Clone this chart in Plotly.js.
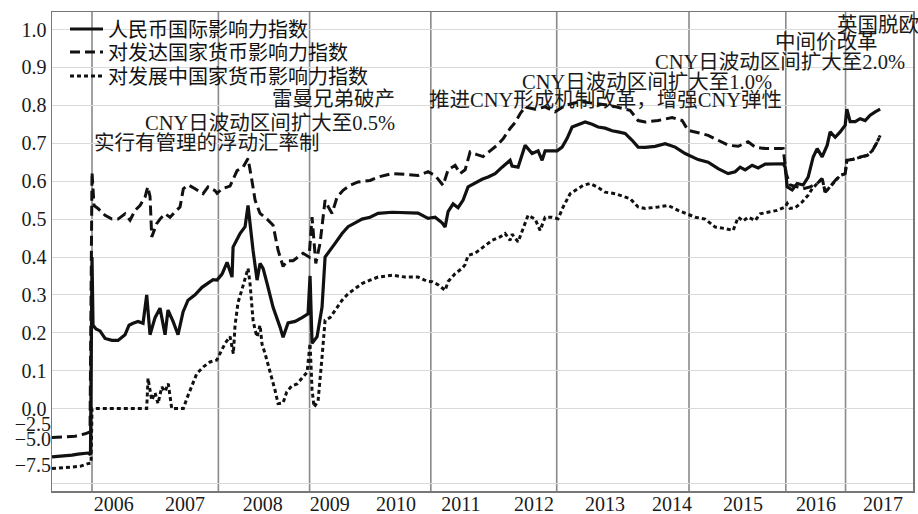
<!DOCTYPE html>
<html><head><meta charset="utf-8">
<script src="https://cdn.plot.ly/plotly-3.0.1.min.js"></script>
<style>html,body{margin:0;padding:0;background:#fff}</style>
</head><body>
<div id="chart" style="width:918px;height:514px"></div>
<script>
// ---------------- data (decimal years, index values) ----------------
const seriesNames = ['人民币国际影响力指数', '对发达国家货币影响力指数', '对发展中国家货币影响力指数'];

const rmbYears = [2004.973,2005.118,2005.263,2005.350,2005.437,2005.495,2005.531,2005.553,2005.568,2005.611,2005.669,2005.742,2005.843,2005.930,2006.032,2006.090,2006.148,2006.220,2006.293,2006.346,2006.394,2006.467,2006.539,2006.612,2006.655,2006.728,2006.800,2006.873,2006.945,2007.047,2007.148,2007.235,2007.308,2007.366,2007.438,2007.511,2007.583,2007.598,2007.699,2007.772,2007.815,2007.888,2007.946,2007.989,2008.033,2008.091,2008.178,2008.279,2008.323,2008.395,2008.497,2008.598,2008.685,2008.714,2008.743,2008.816,2008.888,2008.932,2008.975,2009.077,2009.178,2009.265,2009.367,2009.468,2009.584,2009.700,2009.903,2010.092,2010.280,2010.425,2010.527,2010.628,2010.672,2010.715,2010.788,2010.860,2010.933,2011.005,2011.107,2011.208,2011.295,2011.397,2011.498,2011.614,2011.643,2011.730,2011.832,2011.933,2012.020,2012.078,2012.122,2012.223,2012.296,2012.368,2012.441,2012.513,2012.600,2012.702,2012.803,2012.890,2012.992,2013.093,2013.180,2013.282,2013.383,2013.470,2013.572,2013.717,2013.862,2014.007,2014.152,2014.253,2014.340,2014.485,2014.630,2014.775,2014.877,2014.949,2015.022,2015.123,2015.210,2015.312,2015.457,2015.573,2015.602,2015.631,2015.703,2015.776,2015.863,2015.935,2016.008,2016.066,2016.138,2016.211,2016.254,2016.327,2016.399,2016.472,2016.496,2016.544,2016.617,2016.689,2016.762,2016.834,2016.907,2016.979];
const rmbValues = [-6.72,-6.65,-6.55,-6.45,-6.40,-6.35,-6.50,0.40,0.22,0.21,0.205,0.185,0.18,0.18,0.195,0.22,0.225,0.23,0.225,0.30,0.195,0.24,0.265,0.195,0.26,0.23,0.195,0.255,0.286,0.30,0.32,0.33,0.34,0.339,0.355,0.386,0.347,0.426,0.462,0.48,0.536,0.417,0.339,0.383,0.37,0.33,0.267,0.215,0.188,0.226,0.23,0.24,0.25,0.35,0.172,0.19,0.268,0.40,0.41,0.436,0.462,0.48,0.49,0.50,0.505,0.515,0.518,0.516,0.516,0.502,0.505,0.49,0.479,0.52,0.54,0.53,0.55,0.585,0.595,0.605,0.611,0.62,0.637,0.655,0.64,0.637,0.695,0.673,0.68,0.655,0.68,0.68,0.68,0.69,0.713,0.743,0.75,0.756,0.75,0.743,0.74,0.733,0.73,0.726,0.708,0.69,0.689,0.692,0.699,0.69,0.673,0.665,0.657,0.65,0.633,0.62,0.625,0.637,0.63,0.642,0.635,0.645,0.645,0.646,0.637,0.585,0.577,0.594,0.59,0.611,0.664,0.686,0.664,0.695,0.73,0.716,0.73,0.748,0.79,0.757,0.757,0.765,0.76,0.774,0.783,0.79];

const devdYears = [2004.973,2005.162,2005.307,2005.452,2005.524,2005.553,2005.582,2005.640,2005.742,2005.843,2005.930,2006.032,2006.104,2006.177,2006.249,2006.322,2006.361,2006.394,2006.419,2006.491,2006.539,2006.612,2006.684,2006.757,2006.829,2006.877,2006.949,2007.047,2007.163,2007.235,2007.337,2007.366,2007.438,2007.554,2007.656,2007.743,2007.815,2007.873,2007.917,2007.989,2008.091,2008.178,2008.250,2008.323,2008.381,2008.468,2008.540,2008.613,2008.700,2008.743,2008.797,2008.859,2008.932,2008.975,2009.033,2009.106,2009.193,2009.294,2009.410,2009.584,2009.700,2009.903,2010.092,2010.280,2010.425,2010.527,2010.643,2010.715,2010.817,2010.889,2010.962,2011.034,2011.136,2011.223,2011.324,2011.426,2011.513,2011.614,2011.687,2011.759,2011.832,2011.977,2012.122,2012.267,2012.412,2012.629,2012.847,2013.064,2013.282,2013.354,2013.470,2013.572,2013.760,2013.963,2014.108,2014.195,2014.340,2014.485,2014.630,2014.775,2014.920,2015.065,2015.167,2015.312,2015.457,2015.573,2015.616,2015.674,2015.776,2015.863,2015.964,2016.066,2016.138,2016.182,2016.254,2016.327,2016.399,2016.472,2016.496,2016.588,2016.689,2016.791,2016.863,2016.936,2016.979];
const devdValues = [-4.83,-4.75,-4.60,-4.20,-3.90,0.624,0.536,0.528,0.51,0.50,0.50,0.514,0.497,0.523,0.536,0.558,0.585,0.56,0.453,0.488,0.50,0.514,0.505,0.519,0.532,0.58,0.59,0.58,0.567,0.585,0.575,0.568,0.58,0.587,0.628,0.637,0.66,0.60,0.55,0.515,0.50,0.484,0.418,0.375,0.39,0.39,0.40,0.41,0.40,0.505,0.383,0.436,0.55,0.533,0.515,0.558,0.576,0.589,0.598,0.602,0.611,0.62,0.618,0.615,0.625,0.615,0.589,0.63,0.642,0.62,0.63,0.677,0.67,0.665,0.68,0.695,0.712,0.739,0.755,0.778,0.796,0.79,0.796,0.783,0.80,0.81,0.805,0.80,0.79,0.787,0.76,0.756,0.76,0.768,0.76,0.734,0.728,0.721,0.708,0.695,0.692,0.704,0.69,0.686,0.686,0.686,0.62,0.59,0.585,0.58,0.585,0.594,0.607,0.571,0.585,0.602,0.615,0.62,0.655,0.658,0.664,0.668,0.68,0.703,0.721];

const devgYears = [2004.973,2005.118,2005.263,2005.379,2005.495,2005.539,2005.553,2005.814,2006.104,2006.346,2006.365,2006.419,2006.467,2006.510,2006.564,2006.612,2006.659,2006.709,2006.781,2006.877,2006.926,2006.999,2007.071,2007.167,2007.264,2007.361,2007.409,2007.482,2007.554,2007.602,2007.627,2007.670,2007.728,2007.801,2007.815,2007.844,2007.888,2007.917,2007.946,2007.989,2008.018,2008.062,2008.134,2008.207,2008.250,2008.323,2008.376,2008.449,2008.526,2008.598,2008.671,2008.714,2008.743,2008.772,2008.830,2008.888,2008.932,2009.004,2009.077,2009.178,2009.265,2009.367,2009.468,2009.584,2009.700,2009.903,2010.092,2010.280,2010.411,2010.483,2010.570,2010.672,2010.715,2010.817,2010.918,2010.962,2011.005,2011.107,2011.223,2011.353,2011.469,2011.542,2011.614,2011.643,2011.730,2011.803,2011.875,2011.977,2012.049,2012.122,2012.223,2012.310,2012.383,2012.484,2012.586,2012.673,2012.774,2012.876,2012.992,2013.137,2013.253,2013.354,2013.470,2013.572,2013.760,2013.905,2014.050,2014.181,2014.297,2014.442,2014.587,2014.732,2014.848,2014.920,2014.993,2015.065,2015.167,2015.239,2015.355,2015.486,2015.602,2015.631,2015.674,2015.747,2015.848,2015.935,2015.993,2016.066,2016.138,2016.182,2016.254,2016.327,2016.399,2016.472,2016.496,2016.588,2016.689,2016.791,2016.863,2016.936,2016.979];
const devgValues = [-7.81,-7.75,-7.70,-7.60,-7.34,-7.30,0.0,0.0,0.0,0.0,0.08,0.022,0.042,0.013,0.057,0.045,0.066,0.0,0.0,0.0,0.026,0.06,0.092,0.11,0.123,0.128,0.145,0.172,0.19,0.145,0.22,0.28,0.315,0.357,0.37,0.33,0.233,0.207,0.189,0.22,0.17,0.145,0.10,0.048,0.013,0.015,0.044,0.06,0.065,0.079,0.096,0.172,0.05,0.004,0.02,0.136,0.233,0.24,0.26,0.286,0.303,0.316,0.33,0.339,0.347,0.352,0.347,0.347,0.336,0.335,0.327,0.312,0.335,0.356,0.37,0.38,0.404,0.41,0.426,0.444,0.453,0.462,0.444,0.46,0.44,0.478,0.51,0.50,0.47,0.505,0.505,0.501,0.532,0.567,0.58,0.589,0.594,0.585,0.571,0.567,0.56,0.554,0.532,0.528,0.532,0.536,0.523,0.514,0.505,0.50,0.479,0.475,0.47,0.505,0.495,0.505,0.496,0.514,0.519,0.523,0.532,0.541,0.528,0.53,0.545,0.563,0.58,0.594,0.607,0.571,0.585,0.602,0.615,0.62,0.655,0.658,0.664,0.668,0.68,0.703,0.721];

const eventYears = [2005.553, 2007.385, 2008.707, 2010.465, 2012.290, 2014.208, 2015.611, 2016.477];
const eventLabels = ['实行有管理的浮动汇率制', 'CNY日波动区间扩大至0.5%', '雷曼兄弟破产', '推进CNY形成机制改革，增强CNY弹性', 'CNY日波动区间扩大至1.0%', 'CNY日波动区间扩大至2.0%', '中间价改革', '英国脱欧'];

const yearLabels = ['2006','2007','2008','2009','2010','2011','2012','2013','2014','2015','2016','2017'];
const yearTickPos = [2005.87, 2006.90, 2008.03, 2009.00, 2009.96, 2010.90, 2011.96, 2012.99, 2013.96, 2014.99, 2016.05, 2017.02];

const posTickValues = [0,0.1,0.2,0.3,0.4,0.5,0.6,0.7,0.8,0.9,1.0];
const negTickValues = [-2.5,-5.0,-7.5];
const bottomGridValue = -9.2;

// ---------------- broken (compressed) scale below zero ----------------
const BREAK_VALS = [0, -2.5, -5.0, -7.5];
const BREAK_POS  = [0, -0.0396, -0.0792, -0.1496];
function axisY(v){
  if (v >= 0) return v;
  for (let i = 1; i < BREAK_VALS.length; i++) {
    if (v >= BREAK_VALS[i]) {
      const f = (v - BREAK_VALS[i-1]) / (BREAK_VALS[i] - BREAK_VALS[i-1]);
      return BREAK_POS[i-1] + f * (BREAK_POS[i] - BREAK_POS[i-1]);
    }
  }
  const n = BREAK_VALS.length;
  const slope = (BREAK_POS[n-1] - BREAK_POS[n-2]) / (BREAK_VALS[n-1] - BREAK_VALS[n-2]);
  return BREAK_POS[n-1] + (v - BREAK_VALS[n-1]) * slope;
}
const fmt = v => v.toFixed(1).replace('-', '−');

const FONT = "'Liberation Serif', 'Noto Sans CJK SC', serif";
const INK = '#111';

const traces = [
  {x: rmbYears, y: rmbValues.map(axisY), name: seriesNames[0], mode: 'lines', legend: 'legend',
   line: {color: INK, width: 3.2, dash: 'solid'}},
  {x: devdYears, y: devdValues.map(axisY), name: seriesNames[1], mode: 'lines', legend: 'legend2',
   line: {color: INK, width: 3, dash: '10px,5px'}},
  {x: devgYears, y: devgValues.map(axisY), name: seriesNames[2], mode: 'lines', legend: 'legend3',
   line: {color: INK, width: 3, dash: '4px,3px'}},
  // carrier for the compressed negative-scale labels (no marks)
  {x: [], y: [], yaxis: 'y2', mode: 'lines', showlegend: false, hoverinfo: 'skip'}
];

const yRange = [-0.2174, 1.0464];
const legendBase = {x: 0.0151, xanchor: 'left', yanchor: 'middle', bgcolor: 'rgba(0,0,0,0)',
  borderwidth: 0, itemwidth: 33, font: {family: FONT, size: 20, color: INK}};

// annotation placement (paper coords) for the event labels
const labelPlace = [
  {x: 0.0465, y: 0.7265, xanchor: 'left'},
  {x: 0.4007, y: 0.768, xanchor: 'right'},
  {x: 0.4007, y: 0.818, xanchor: 'right'},
  {x: 0.4355, y: 0.816, xanchor: 'left'},
  {x: 0.5436, y: 0.854, xanchor: 'left'},
  {x: 0.6980, y: 0.8956, xanchor: 'left'},
  {x: 0.8374, y: 0.9374, xanchor: 'left'},
  {x: 0.9094, y: 0.973, xanchor: 'left'}
];

const layout = {
  width: 918, height: 514,
  margin: {l: 52, r: 5, t: 12, b: 23, pad: 0},
  paper_bgcolor: '#fff', plot_bgcolor: '#fff',
  font: {family: FONT, size: 20, color: '#1a1a1a'},
  showlegend: true,
  hovermode: false,
  xaxis: {type: 'linear', range: [2004.973, 2017.455], tickvals: yearTickPos, ticktext: yearLabels,
    showgrid: false, zeroline: false, showline: true, mirror: true, linecolor: '#777', linewidth: 1.5,
    ticks: '', ticklabelstandoff: -6, tickfont: {family: FONT, size: 20, color: '#1a1a1a'}},
  yaxis: {range: yRange, tickvals: posTickValues.concat([axisY(bottomGridValue)]),
    ticktext: posTickValues.map(fmt).concat(['']),
    showgrid: true, gridcolor: '#dadada', gridwidth: 1, zeroline: false,
    showline: true, mirror: true, linecolor: '#777', linewidth: 1.5, ticks: '',
    tickfont: {family: FONT, size: 20, color: '#1a1a1a'}},
  yaxis2: {overlaying: 'y', side: 'left', range: yRange, tickvals: negTickValues.map(axisY),
    ticktext: negTickValues.map(fmt), showgrid: false, zeroline: false, showline: false, ticks: '',
    tickfont: {family: FONT, size: 20, color: '#1a1a1a'}},
  legend: Object.assign({}, legendBase, {y: 0.9645}),
  legend2: Object.assign({}, legendBase, {y: 0.9165}),
  legend3: Object.assign({}, legendBase, {y: 0.8664}),
  shapes: eventYears.map(t => ({type: 'line', xref: 'x', yref: 'paper', x0: t, x1: t, y0: 0, y1: 1,
    line: {color: '#8a8a8a', width: 1.6}, layer: 'below'})),
  annotations: eventLabels.map((txt, i) => ({text: txt, xref: 'paper', yref: 'paper',
    x: labelPlace[i].x, y: labelPlace[i].y, xanchor: labelPlace[i].xanchor, yanchor: 'middle',
    showarrow: false, font: {family: FONT, size: 20.5, color: '#1a1a1a'}}))
};

Plotly.newPlot('chart', traces, layout, {staticPlot: true, displayModeBar: false});
</script>
</body></html>
